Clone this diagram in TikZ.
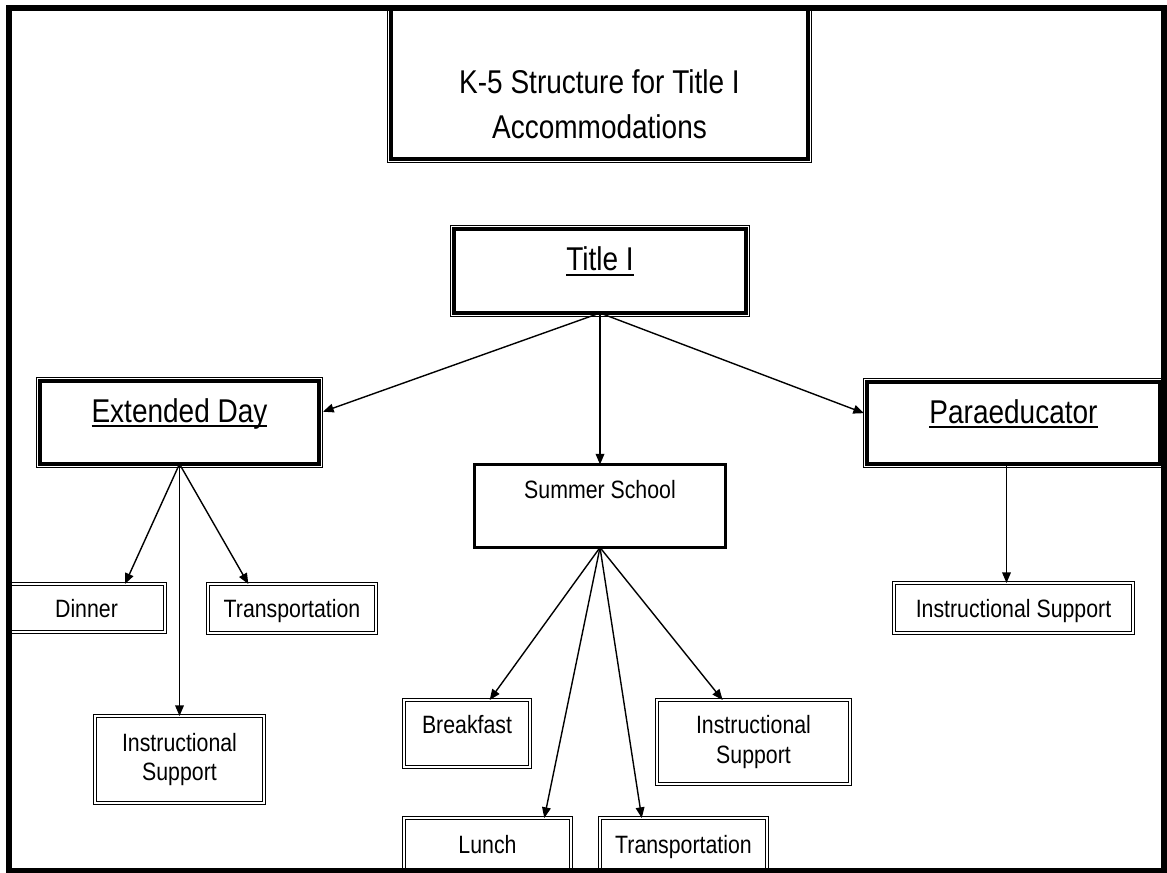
\documentclass[tikz,border=0pt]{standalone}
\usepackage{fontspec}
\setmainfont[FakeStretch=0.85]{Liberation Sans}
\usetikzlibrary{arrows.meta,calc}
\newcommand\ulx[1]{\setbox0\hbox{#1}\rlap{\rule[-0.15em]{\wd0}{0.06em}}\box0}
\newcommand\outerrule[1]{\draw[line width=0.75pt] ($(#1.north west)+(-3.5,-3.5)$) rectangle ($(#1.south east)+(3.5,3.5)$);}
\tikzset{
  sz/.style 2 args={minimum width=#1*0.75pt, minimum height=#2*0.75pt},
  base/.style={inner sep=0pt, outer sep=0pt, align=center},
  bigfont/.style={font=\fontsize{24.7}{33.75}\selectfont},
  smallfont/.style={font=\fontsize{18.8}{22}\selectfont},
  ttbox/.style={base, draw, line width=3pt},
  hdr/.style={bigfont, text height=18pt, text depth=18pt},
  ssbox/.style={base, draw, line width=2.25pt, smallfont, text height=14pt, text depth=26pt},
  dbl/.style={base, draw, double, line width=0.75pt, double distance=1.5pt, smallfont},
  one/.style={text height=16.9pt, text depth=3.4pt},
  upper/.style={text height=14pt, text depth=14pt},
  conn/.style={->, line width=1.05pt},
}
\begin{document}
\begin{tikzpicture}[x=0.75pt,y=-0.75pt, >={Triangle[length=8pt,width=6.5pt]}]
\useasboundingbox (0,0) rectangle (1167,873);
\clip (0,0) rectangle (1167,873);

% title
\node[ttbox, sz={417}{150}] (title) at (599.5,84) {};
\outerrule{title}
\node[bigfont, align=center, inner sep=0pt] (titletext) at (599.5,104.5) {K-5 Structure for Title I\\Accommodations};

% level 1
\node[ttbox, hdr, sz={292}{84}] (t1) at (600,271) {\ulx{Title I}};
\outerrule{t1}

% level 2
\node[ttbox, hdr, sz={279}{83}] (ed) at (179.5,422.5) {\ulx{Extended Day}};
\outerrule{ed}
\node[ttbox, hdr, sz={293}{82}] (para) at (1013.5,423) {\ulx{Paraeducator}};
\outerrule{para}
\node[ssbox, sz={251}{83}] (ss) at (600,506) {Summer School};

% extended day children
\node[dbl, one, sz={157}{48}] (dinner) at (86.5,608) {Dinner};
\node[dbl, one, sz={168}{49}] (edt) at (292,608.5) {Transportation};
\node[dbl, sz={169}{87}] (edis) at (179.5,759.5) {Instructional\\Support};

% summer school children
\node[dbl, upper, sz={126}{67}] (bf) at (467,733.5) {Breakfast};
\node[dbl, one, sz={167}{52}] (lunch) at (487.5,844) {Lunch};
\node[dbl, one, sz={167}{52}] (sst) at (683.5,844) {Transportation};
\node[dbl, sz={193}{84}] (ssis) at (753.5,742) {Instructional\\Support};

% paraeducator child
\node[dbl, one, sz={239}{50}] (pis) at (1013.5,608) {Instructional Support};

% connectors
\draw[conn] (t1.south) -- ($(ed.north east)!0.37!(ed.south east)+(4,0)$);
\draw[conn] (t1.south) -- (ss.north);
\draw[conn] (t1.south) -- ($(para.north west)!0.38!(para.south west)+(-3,0)$);

\draw[conn] (ed.south) -- ($(dinner.north west)!0.745!(dinner.north east)$);
\draw[conn] (ed.south) -- ($(edt.north west)!0.24!(edt.north east)$);
\draw[conn] (ed.south) -- (edis.north);

\draw[conn] (ss.south) -- ($(bf.north west)!0.68!(bf.north east)$);
\draw[conn] (ss.south) -- ($(lunch.north west)!0.84!(lunch.north east)$);
\draw[conn] (ss.south) -- ($(sst.north west)!0.25!(sst.north east)$);
\draw[conn] (ss.south) -- ($(ssis.north west)!0.34!(ssis.north east)$);

\draw[conn] ($(para.south)+(-7,0)$) -- ($(pis.north)+(-7,0)$);

% outer frame
\draw[line width=4.5pt] (9,8) rectangle (1164,871);
\end{tikzpicture}
\end{document}
